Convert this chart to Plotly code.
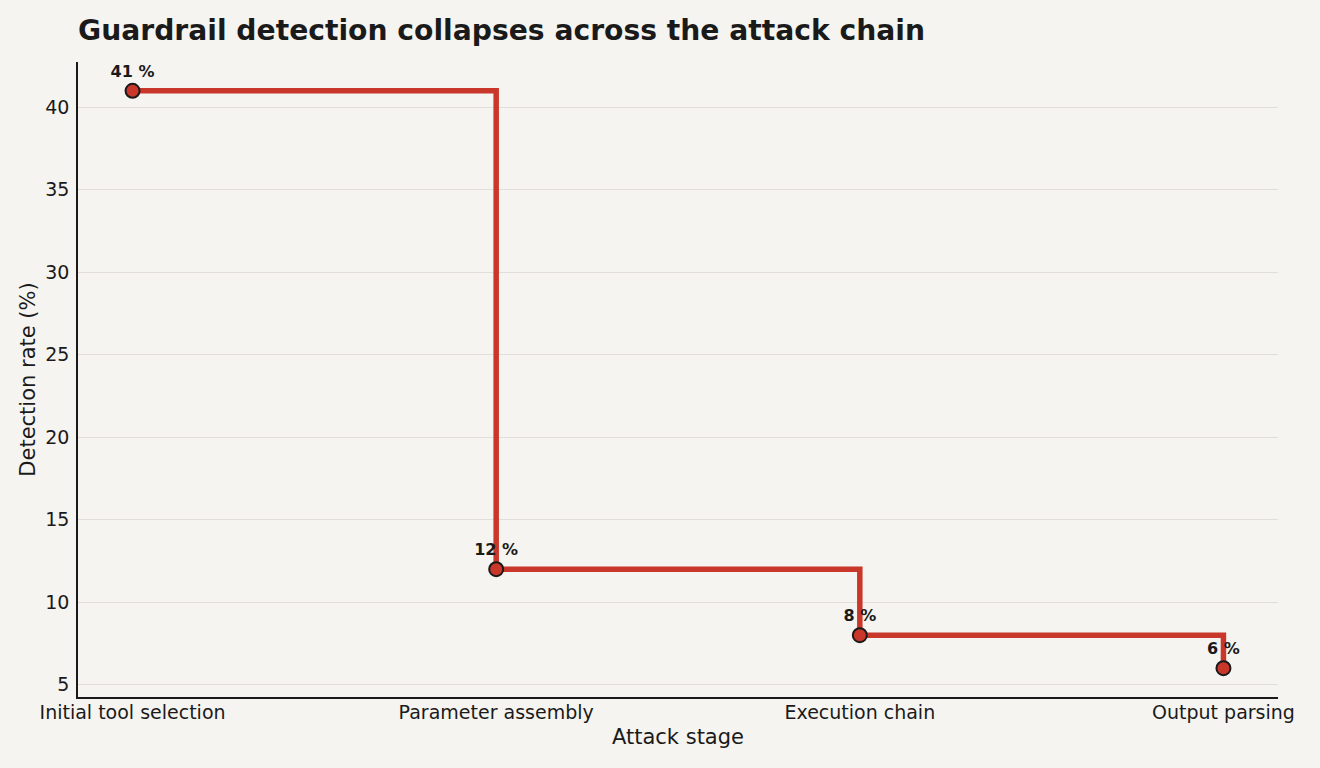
import plotly.graph_objects as go

stages = ["Initial tool selection", "Parameter assembly", "Execution chain", "Output parsing"]
detection = [41, 12, 8, 6]
labels = ["41 %", "12 %", "8 %", "6 %"]
y_ticks = [5, 10, 15, 20, 25, 30, 35, 40]

BG = "#f5f4f0"
RED = "#c8372a"
INK = "#1a1a1a"
FONT = "DejaVu Sans"

fig = go.Figure()
fig.add_trace(go.Scatter(
    x=list(range(len(stages))), y=detection,
    mode="lines+markers+text",
    line=dict(shape="hv", color=RED, width=5.5),
    marker=dict(size=14, color=RED, line=dict(color=INK, width=2)),
    text=[f"<b>{t}</b>" for t in labels],
    textposition="top center",
    textfont=dict(family=FONT, size=16, color=INK),
    cliponaxis=False,
    hoverinfo="skip",
))

fig.update_layout(
    width=1320, height=768,
    paper_bgcolor=BG, plot_bgcolor=BG,
    margin=dict(l=78, r=42, t=62, b=71),
    showlegend=False,
    font=dict(family=FONT, color=INK),
    title=dict(text="<b>Guardrail detection collapses across the attack chain</b>",
               x=78/1320, xanchor="left", y=1 - 30/768, yanchor="middle",
               font=dict(family=FONT, size=28.2, color=INK)),
)
fig.update_xaxes(
    range=[-0.15, 3.15],
    tickmode="array", tickvals=list(range(len(stages))), ticktext=stages,
    tickfont=dict(size=19, color=INK),
    ticklabelstandoff=-3,
    showgrid=False, zeroline=False,
    showline=True, linecolor=INK, linewidth=1.6,
    ticks="", ticklen=0,
    title=dict(text="Attack stage", font=dict(size=21, color=INK), standoff=8),
)
fig.update_yaxes(
    range=[4.25, 42.75],
    tickmode="array", tickvals=y_ticks,
    tickfont=dict(size=19, color=INK),
    ticklabelstandoff=3,
    showgrid=True, gridcolor="#e0ded6", gridwidth=1.4,
    zeroline=False,
    showline=True, linecolor=INK, linewidth=1.6,
    ticks="", ticklen=0,
    title=dict(text="Detection rate (%)", font=dict(size=21, color=INK), standoff=4),
)

fig.write_html("out.html")
